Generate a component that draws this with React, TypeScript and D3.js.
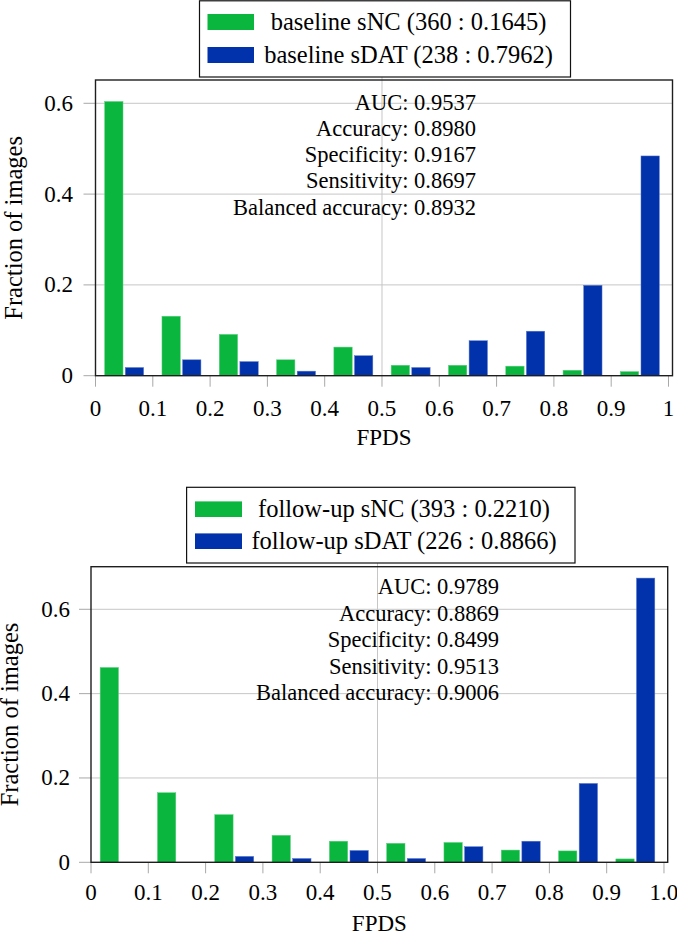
import React from 'react';
import * as d3 from 'd3';

// ---- data ----
const binCenters = [0.05, 0.15, 0.25, 0.35, 0.45, 0.55, 0.65, 0.75, 0.85, 0.95];
const xTickValues = [0, 0.1, 0.2, 0.3, 0.4, 0.5, 0.6, 0.7, 0.8, 0.9, 1];
const xTickLabelsTop = ['0', '0.1', '0.2', '0.3', '0.4', '0.5', '0.6', '0.7', '0.8', '0.9', '1'];
const xTickLabelsBottom = ['0', '0.1', '0.2', '0.3', '0.4', '0.5', '0.6', '0.7', '0.8', '0.9', '1.0'];
const yTickValues = [0, 0.2, 0.4, 0.6];
const yTickLabels = ['0', '0.2', '0.4', '0.6'];

const baselineSNC = [0.604, 0.131, 0.091, 0.035, 0.063, 0.023, 0.023, 0.021, 0.012, 0.009];
const baselineSDAT = [0.018, 0.035, 0.031, 0.010, 0.044, 0.018, 0.077, 0.098, 0.199, 0.484];
const followupSNC = [0.462, 0.165, 0.113, 0.064, 0.050, 0.045, 0.047, 0.029, 0.027, 0.008];
const followupSDAT = [0, 0, 0.014, 0.009, 0.028, 0.009, 0.037, 0.050, 0.187, 0.674];

const baselineLegend = ['baseline sNC (360 : 0.1645)', 'baseline sDAT (238 : 0.7962)'];
const followupLegend = ['follow-up sNC (393 : 0.2210)', 'follow-up sDAT (226 : 0.8866)'];

const metricNames = ['AUC', 'Accuracy', 'Specificity', 'Sensitivity', 'Balanced accuracy'];
const baselineMetrics = ['0.9537', '0.8980', '0.9167', '0.8697', '0.8932'];
const followupMetrics = ['0.9789', '0.8869', '0.8499', '0.9513', '0.9006'];

const xLabel = 'FPDS';
const yLabel = 'Fraction of images';

// ---- style ----
const GREEN = '#0ab63d';
const BLUE = '#0232ab';
const GRID = '#c6c6c6';
const TICK = '#a8a8a8';
const FONT = '"Liberation Serif", "Times New Roman", Times, "DejaVu Serif", serif';

interface PanelProps {
  nc: number[];
  dat: number[];
  legend: string[];
  metrics: string[];
  xTickLabels: string[];
  L: any;
}

function Panel({ nc, dat, legend, metrics, xTickLabels, L }: PanelProps) {
  const x = d3.scaleLinear().domain([0, L.xmax]).range([L.left, L.right]);
  const y = d3.scaleLinear().domain([0, L.ymax]).range([L.bottom, L.top]);
  const bw = 0.032;
  const off = 0.018;
  const bwPx = x(bw) - x(0);
  const colors = [GREEN, BLUE];
  const ts = { fontFamily: FONT };
  return (
    <g>
      {yTickValues.filter((v) => v > 0).map((v) => (
        <line key={'gy' + v} x1={L.left} x2={L.right} y1={y(v)} y2={y(v)} stroke={GRID} strokeWidth={1} />
      ))}
      <line x1={x(0.5)} x2={x(0.5)} y1={L.bottom} y2={L.legY1} stroke={GRID} strokeWidth={1} />
      {binCenters.map((c, i) => (
        <g key={'b' + i}>
          {nc[i] > 0 && (
            <rect x={x(c - off) - bwPx / 2} width={bwPx} y={y(nc[i])} height={y(0) - y(nc[i])} fill={GREEN} stroke="#5cd07f" strokeWidth={0.5} />
          )}
          {dat[i] > 0 && (
            <rect x={x(c + off) - bwPx / 2} width={bwPx} y={y(dat[i])} height={y(0) - y(dat[i])} fill={BLUE} stroke="#5a78c8" strokeWidth={0.5} />
          )}
        </g>
      ))}
      {xTickValues.map((v, i) => (
        <g key={'xt' + i}>
          <line x1={x(v)} x2={x(v)} y1={L.bottom} y2={L.bottom + 11} stroke={TICK} strokeWidth={1} />
          <text x={x(v)} y={L.xTickBase} textAnchor="middle" fontSize={23} style={ts}>{xTickLabels[i]}</text>
        </g>
      ))}
      {yTickValues.map((v, i) => (
        <g key={'yt' + i}>
          <line x1={L.left - 12} x2={L.left} y1={y(v)} y2={y(v)} stroke={TICK} strokeWidth={1} />
          <text x={L.yTickRight} y={y(v) + 7.5} textAnchor="end" fontSize={23} style={ts}>{yTickLabels[i]}</text>
        </g>
      ))}
      <rect x={L.left} y={L.top} width={L.right - L.left} height={L.bottom - L.top} fill="none" stroke="#1e1e1e" strokeWidth={1.4} />
      {metricNames.map((m, i) => (
        <text key={'m' + i} x={L.annRight} y={L.annBase + i * L.annStep} textAnchor="end" fontSize={22.5} style={ts}>
          {m + ': ' + metrics[i]}
        </text>
      ))}
      <text x={(L.left + L.right) / 2} y={L.xLabBase} textAnchor="middle" fontSize={23} style={ts}>{xLabel}</text>
      <text transform={`translate(${L.yLabX},${(L.top + L.bottom) / 2}) rotate(-90)`} textAnchor="middle" fontSize={24.5} style={ts}>{yLabel}</text>
      <rect x={L.legX0} y={L.legY0} width={L.legX1 - L.legX0} height={L.legY1 - L.legY0} fill="#fff" stroke="#111" strokeWidth={1.2} />
      {legend.map((t, i) => (
        <g key={'l' + i}>
          <rect x={L.swX0} y={L.rowBase[i] - L.swH} width={L.swX1 - L.swX0} height={L.swH} fill={colors[i]} />
          <text x={L.legCx} y={L.rowBase[i]} textAnchor="middle" fontSize={24.5} style={ts}>{t}</text>
        </g>
      ))}
    </g>
  );
}

const topLayout = {
  left: 95.5, right: 672.5, top: 80, bottom: 375.7, xmax: 1.007, ymax: 0.6513,
  legX0: 199.5, legX1: 570.5, legY0: 0.8, legY1: 77,
  swX0: 207.5, swX1: 254, swH: 16, rowBase: [30, 63], legCx: 408.5,
  annRight: 476, annBase: 109.5, annStep: 26.3,
  yLabX: 21.5, yTickRight: 73, xTickBase: 415.5, xLabBase: 445,
};

const bottomLayout = {
  left: 91, right: 667.7, top: 566.7, bottom: 862.3, xmax: 1.0065, ymax: 0.701,
  legX0: 186.6, legX1: 575, legY0: 487.3, legY1: 563,
  swX0: 195, swX1: 242, swH: 15.6, rowBase: [517, 549], legCx: 404,
  annRight: 499, annBase: 594, annStep: 26.5,
  yLabX: 17.5, yTickRight: 70, xTickBase: 900, xLabBase: 931,
};

export default function App() {
  return (
    <svg width={677} height={934} style={{ position: 'absolute', left: 0, top: 0, background: '#fff', fontFamily: FONT }}>
      <rect x={0} y={0} width={677} height={934} fill="#fff" />
      <Panel nc={baselineSNC} dat={baselineSDAT} legend={baselineLegend} metrics={baselineMetrics} xTickLabels={xTickLabelsTop} L={topLayout} />
      <Panel nc={followupSNC} dat={followupSDAT} legend={followupLegend} metrics={followupMetrics} xTickLabels={xTickLabelsBottom} L={bottomLayout} />
    </svg>
  );
}
